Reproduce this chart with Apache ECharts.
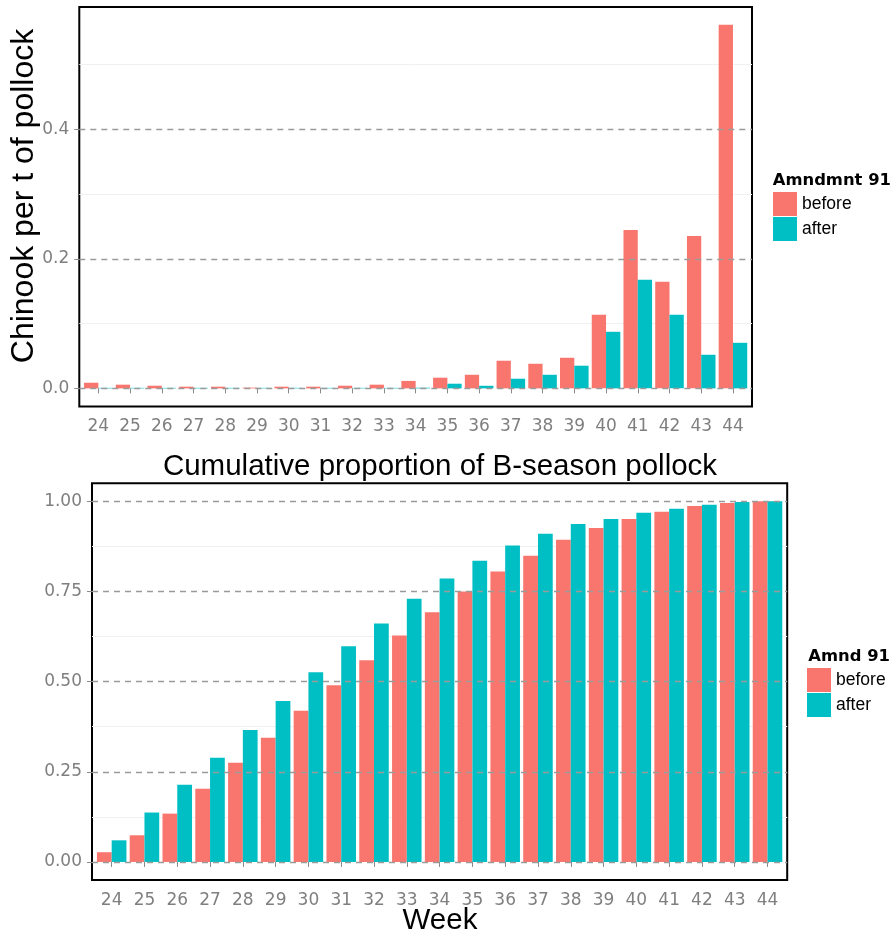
<!DOCTYPE html>
<html>
<head>
<meta charset="utf-8">
<script src="https://cdn.jsdelivr.net/npm/echarts@6/dist/echarts.min.js"></script>
<style>
html,body{margin:0;padding:0;background:#fff;}
#chart{width:896px;height:938px;}
</style>
</head>
<body>
<div id="chart"></div>
<script>
// ---- data ----
var weeks = [24,25,26,27,28,29,30,31,32,33,34,35,36,37,38,39,40,41,42,43,44];
var chinookBefore = [0.0087,0.0057,0.0041,0.0026,0.0026,0.0012,0.0026,0.0026,0.0041,0.0057,0.0115,0.0165,0.021,0.0427,0.038,0.0473,0.1136,0.2447,0.1645,0.2355,0.5615];
var chinookAfter  = [0.0008,0.0008,0.0008,0.0008,0.0008,0.0008,0.0008,0.0008,0.0008,0.0008,0.001,0.0072,0.004,0.0149,0.021,0.035,0.0874,0.1676,0.1136,0.0519,0.0704];
var cumBefore = [0.027,0.074,0.134,0.203,0.275,0.344,0.419,0.490,0.559,0.628,0.692,0.750,0.805,0.849,0.893,0.926,0.951,0.971,0.987,0.995,1.0];
var cumAfter  = [0.060,0.137,0.214,0.289,0.366,0.446,0.526,0.598,0.661,0.730,0.786,0.835,0.877,0.910,0.937,0.951,0.968,0.979,0.990,0.998,1.0];
var topMajorTicks = [0, 0.2, 0.4];
var topMinorTicks = [0.1, 0.3, 0.5];
var botMajorTicks = [0, 0.25, 0.5, 0.75, 1.0];
var botMinorTicks = [0.125, 0.375, 0.625, 0.875];
var seriesNames = ['before', 'after'];
var colors = ['#F8766D', '#00BFC4'];

function pairs(vals){ return weeks.map(function(w,i){ return [w, vals[i]]; }); }

var tickFont = 'DejaVu Sans';
var mainFont = 'Liberation Sans';
var tickColor = '#7F7F7F';

function xAxisDef(gi){
  return {
    type:'value', gridIndex:gi, min:23.4, max:44.6,
    axisLine:{show:false},
    axisTick:{show:true, length:5, lineStyle:{color:'#8a8a8a', width:1}, customValues:weeks},
    axisLabel:{show:true, margin:12, color:tickColor, fontFamily:tickFont, fontSize:17, customValues:weeks},
    splitLine:{show:false}
  };
}
function yMajor(gi, min, max, ticks, dec){
  return {
    type:'value', gridIndex:gi, min:min, max:max, z:10,
    axisLine:{show:false},
    axisTick:{show:true, length:5, lineStyle:{color:'#8a8a8a', width:1}, customValues:ticks},
    axisLabel:{show:true, margin:10, color:tickColor, fontFamily:tickFont, fontSize:17, customValues:ticks,
      formatter:function(v){ return Number(v).toFixed(dec); }},
    splitLine:{show:true, lineStyle:{color:'#9a9a9a', width:1.3, type:[6,5]}}
  };
}
function yMinor(gi, min, max, ticks){
  return {
    type:'value', gridIndex:gi, min:min, max:max, position:'left', z:0,
    axisLine:{show:false},
    axisTick:{show:false, customValues:ticks},
    axisLabel:{show:false, customValues:ticks},
    splitLine:{show:true, lineStyle:{color:'#F0F0F0', width:1, type:'solid'}}
  };
}

var chart = echarts.init(document.getElementById('chart'), null, {renderer:'canvas'});
var option = {
  animation:false,
  backgroundColor:'#ffffff',
  color:colors,
  grid:[
    {left:79.3, top:7, width:672.7, height:399.5, show:true, borderColor:'#000', borderWidth:2, backgroundColor:'transparent'},
    {left:92, top:483.2, width:695.2, height:396.8, show:true, borderColor:'#000', borderWidth:2, backgroundColor:'transparent'}
  ],
  xAxis:[ xAxisDef(0), xAxisDef(1) ],
  yAxis:[
    yMajor(0, -0.028, 0.589, topMajorTicks, 1),
    yMinor(0, -0.028, 0.589, topMinorTicks),
    yMajor(1, -0.05, 1.05, botMajorTicks, 2),
    yMinor(1, -0.05, 1.05, botMinorTicks)
  ],
  legend:[
    {orient:'vertical', left:773, top:192, padding:0, itemWidth:24, itemHeight:24, itemGap:1, icon:'rect',
     data:seriesNames, textStyle:{fontFamily:mainFont, fontSize:17.5, color:'#000'}, selectedMode:false},
    {orient:'vertical', left:807, top:668, padding:0, itemWidth:24, itemHeight:24, itemGap:1, icon:'rect',
     data:seriesNames, textStyle:{fontFamily:mainFont, fontSize:17.5, color:'#000'}, selectedMode:false}
  ],
  graphic:[
    {type:'text', x:24, y:196, rotation:Math.PI/2,
     style:{text:'Chinook per t of pollock', fontFamily:mainFont, fontSize:32, fill:'#000', align:'center', verticalAlign:'middle'}},
    {type:'text', x:440, y:466.5,
     style:{text:'Cumulative proportion of B-season pollock', fontFamily:mainFont, fontSize:29.5, fill:'#000', align:'center', verticalAlign:'middle'}},
    {type:'text', x:440, y:921,
     style:{text:'Week', fontFamily:mainFont, fontSize:29.5, fill:'#000', align:'center', verticalAlign:'middle'}},
    {type:'text', x:772.7, y:180.5,
     style:{text:'Amndmnt 91', fontFamily:tickFont, fontWeight:'bold', fontSize:16.4, fill:'#000', align:'left', verticalAlign:'middle'}},
    {type:'text', x:808.3, y:656.5,
     style:{text:'Amnd 91', fontFamily:tickFont, fontWeight:'bold', fontSize:16.4, fill:'#000', align:'left', verticalAlign:'middle'}}
  ],
  series:[
    {name:seriesNames[0], type:'bar', xAxisIndex:0, yAxisIndex:0, data:pairs(chinookBefore), barGap:'0%', barCategoryGap:'10%', itemStyle:{color:colors[0]}, z:2},
    {name:seriesNames[1], type:'bar', xAxisIndex:0, yAxisIndex:0, data:pairs(chinookAfter), barGap:'0%', barCategoryGap:'10%', itemStyle:{color:colors[1]}, z:2},
    {name:seriesNames[0], type:'bar', xAxisIndex:1, yAxisIndex:2, data:pairs(cumBefore), barGap:'0%', barCategoryGap:'10%', itemStyle:{color:colors[0]}, z:2},
    {name:seriesNames[1], type:'bar', xAxisIndex:1, yAxisIndex:2, data:pairs(cumAfter), barGap:'0%', barCategoryGap:'10%', itemStyle:{color:colors[1]}, z:2}
  ]
};
chart.setOption(option);
</script>
</body>
</html>
